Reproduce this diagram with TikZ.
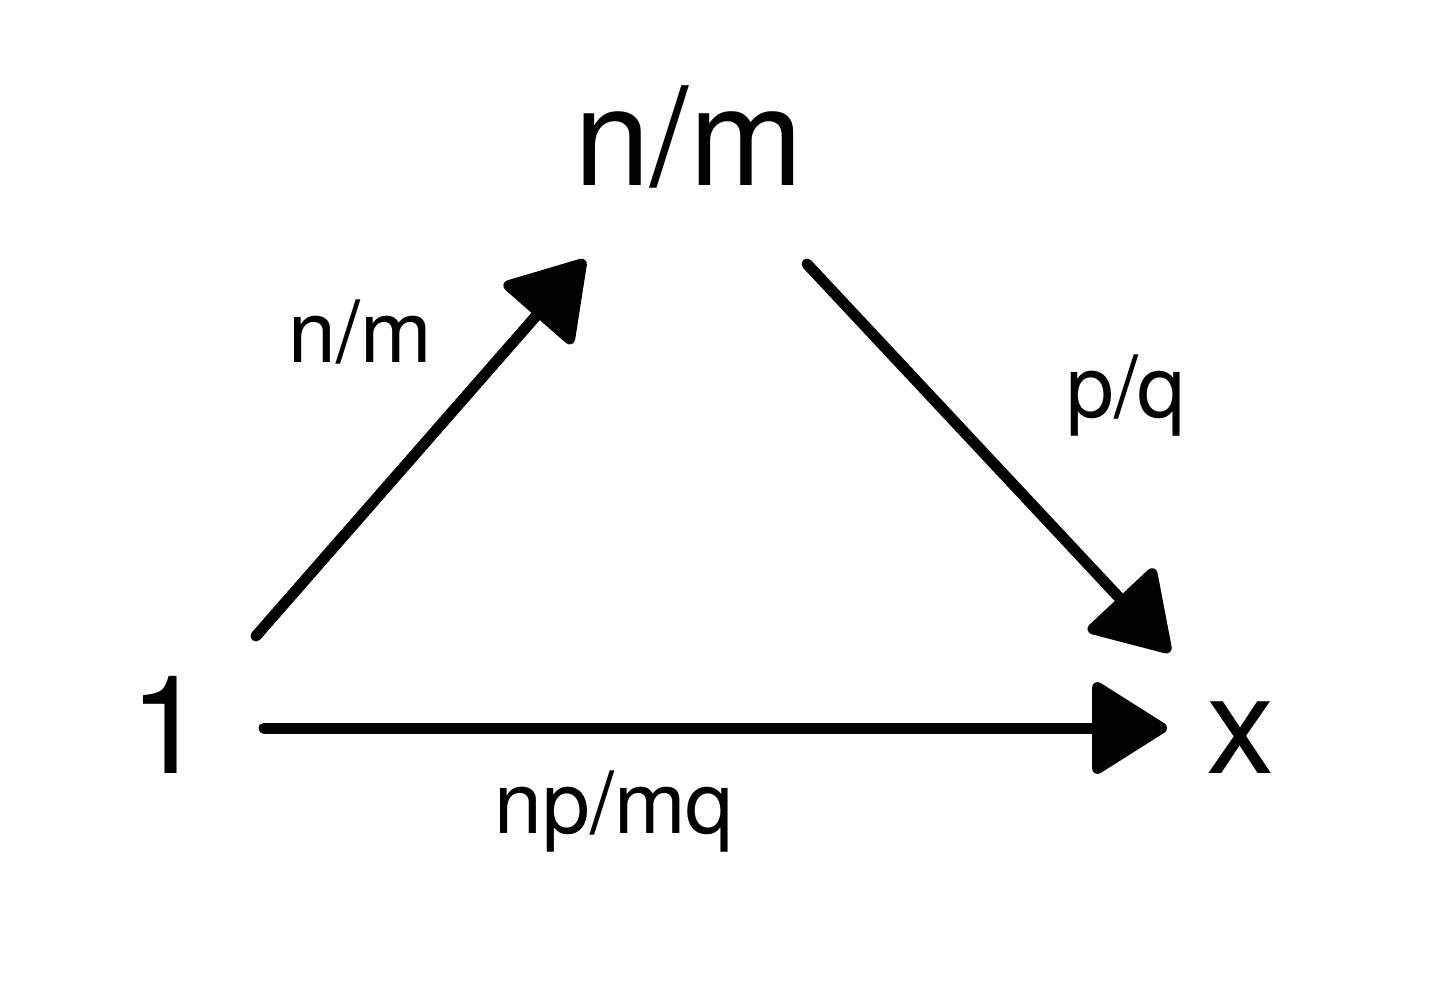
\documentclass[tikz,border=0pt]{standalone}
\usepackage{fontspec}
\setmainfont{TeX Gyre Heros}
\usetikzlibrary{arrows.meta}
\begin{document}
\begin{tikzpicture}[x=1pt,y=-1pt,
  big/.style={inner sep=0pt,anchor=base,font=\fontsize{137}{137}\selectfont},
  small/.style={inner sep=0pt,anchor=base,font=\fontsize{86}{86}\selectfont},
  arr/.style={line width=11pt,line cap=round,-{Triangle[length=80pt,width=98pt,round]}}]
\useasboundingbox (0,0) rectangle (1448,1001);
\node[big] (top) at (689,185) {n/m};
\node[big] (one) at (168,773) {1};
\node[big] (x) at (1241,773) {x};
\node[small] (l1) at (360,362) {n/m};
\node[small] (l2) at (1126,417) {p/q};
\node[small] (l3) at (614,833) {np/mq};
\coordinate (a1) at (256,636);
\coordinate (b1) at (585,260);
\coordinate (a2) at (807,264);
\coordinate (b2) at (1170,652);
\coordinate (a3) at (264,728);
\coordinate (b3) at (1167,728);
\draw[arr] (a1) -- (b1);
\draw[arr] (a2) -- (b2);
\draw[arr] (a3) -- (b3);
\end{tikzpicture}
\end{document}
